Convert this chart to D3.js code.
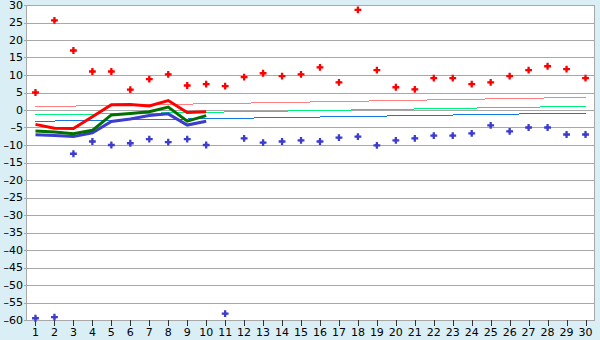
<!DOCTYPE html>
<html>
<head>
<meta charset="utf-8">
<script src="https://cdn.jsdelivr.net/npm/d3@7"></script>
<style>
  body { margin: 0; background: #d9eef5; }
  svg { display: block; }
  text { font-family: "DejaVu Sans", Verdana, sans-serif; font-size: 11px; fill: #000; }
</style>
</head>
<body>
<div id="chart"></div>
<script>
// days on the x axis
var days = d3.range(1, 31);
var yTicks = d3.range(-60, 31, 5);

// scattered maxima / minima
var redPoints = [5, 25.6, 17, 11, 11, 5.8, 8.8, 10.2, 7, 7.4, 6.8, 9.4, 10.5, 9.7, 10.2,
  12.2, 7.9, 28.6, 11.4, 6.5, 5.9, 9.1, 9.1, 7.4, 7.9, 9.7, 11.4, 12.5, 11.7, 9.1];
var bluePoints = [-59.5, -59.2, -12.5, -9, -10, -9.5, -8.3, -9.2, -8.3, -10, -58.2, -8.1, -9.3, -9, -8.7,
  -9, -7.9, -7.6, -10.1, -8.7, -8.1, -7.3, -7.3, -6.7, -4.4, -6.1, -5, -5, -7, -7];

// thick lines, first ten days only
var redLine = [-4.1, -5.2, -5.3, -1.9, 1.5, 1.6, 1.15, 2.7, -0.7, -0.5];
var greenLine = [-6, -6.3, -6.8, -5.8, -1.4, -1, -0.5, 0.85, -3.2, -1.6];
var blueLine = [-7.1, -7.3, -7.6, -6.5, -3.3, -2.6, -1.6, -1.1, -4.3, -3.2];

// thin trend lines (start day/value, end day/value)
var pinkTrend = [[1, 0.94], [30, 3.63]];
var mintTrend = [[1, -1.43], [30, 1.06]];
var skyTrend = [[1, -3.23], [30, -0.86]];

var width = 600, height = 340;
var margin = { top: 5, right: 5, bottom: 20, left: 26 };

var svg = d3.select("#chart").append("svg")
  .attr("width", width)
  .attr("height", height);

var x = d3.scalePoint()
  .domain(days)
  .range([margin.left, width - margin.right])
  .padding(0.5);

var y = d3.scaleLinear()
  .domain([-60, 30])
  .range([height - margin.bottom, margin.top]);

// white plot area
svg.append("rect")
  .attr("x", margin.left)
  .attr("y", margin.top)
  .attr("width", width - margin.right - margin.left)
  .attr("height", height - margin.bottom - margin.top)
  .attr("fill", "#fff");

// horizontal grid
svg.append("g")
  .selectAll("line")
  .data(yTicks)
  .enter()
  .append("line")
  .attr("x1", margin.left - 2)
  .attr("x2", width - margin.right)
  .attr("y1", function (d) { return Math.round(y(d)) + 0.5; })
  .attr("y2", function (d) { return Math.round(y(d)) + 0.5; })
  .attr("stroke", "#a8a8a8")
  .attr("stroke-width", 1);

// y labels
svg.append("g")
  .selectAll("text")
  .data(yTicks)
  .enter()
  .append("text")
  .attr("x", margin.left - 3)
  .attr("y", function (d) { return y(d); })
  .attr("dy", "0.35em")
  .attr("text-anchor", "end")
  .text(function (d) { return d < 0 ? "\u2013" + (-d) : d; });

// left axis and right border
svg.append("line")
  .attr("x1", margin.left + 0.5).attr("x2", margin.left + 0.5)
  .attr("y1", margin.top).attr("y2", height - margin.bottom)
  .attr("stroke", "#a8a8a8");
svg.append("line")
  .attr("x1", width - margin.right - 0.5).attr("x2", width - margin.right - 0.5)
  .attr("y1", margin.top).attr("y2", height - margin.bottom)
  .attr("stroke", "#a8a8a8");

// x ticks and labels
var xg = svg.append("g");
xg.selectAll("line")
  .data(days)
  .enter()
  .append("line")
  .attr("x1", function (d) { return Math.round(x(d)) + 0.5; })
  .attr("x2", function (d) { return Math.round(x(d)) + 0.5; })
  .attr("y1", height - margin.bottom)
  .attr("y2", height - margin.bottom + 6)
  .attr("stroke", "#333");
xg.selectAll("text")
  .data(days)
  .enter()
  .append("text")
  .attr("x", function (d) { return x(d); })
  .attr("y", height - 4)
  .attr("text-anchor", "middle")
  .text(function (d) { return d; });

// trend lines
var trendLine = d3.line()
  .x(function (d) { return x(d[0]); })
  .y(function (d) { return y(d[1]); });

[[pinkTrend, "#ff8080"], [mintTrend, "#00f080"], [skyTrend, "#1478e0"]].forEach(function (t) {
  svg.append("path")
    .attr("d", trendLine(t[0]))
    .attr("fill", "none")
    .attr("stroke", t[1])
    .attr("stroke-width", 1)
    .attr("shape-rendering", "crispEdges");
});

// thick lines
var dayLine = d3.line()
  .x(function (d, i) { return x(days[i]); })
  .y(function (d) { return y(d); });

[[blueLine, "#3c3cd0"], [greenLine, "#007000"], [redLine, "#ff0000"]].forEach(function (l) {
  svg.append("path")
    .attr("d", dayLine(l[0]))
    .attr("fill", "none")
    .attr("stroke", l[1])
    .attr("stroke-width", 3);
});

// point markers: cross with a diamond core
var crossPath = d3.symbol().type(d3.symbolCross).size(26)();
var corePath = d3.symbol().type(d3.symbolSquare).size(10)();

[[redPoints, "#ff0000"], [bluePoints, "#3c3cd0"]].forEach(function (p) {
  var g = svg.append("g")
    .selectAll("g")
    .data(p[0])
    .enter()
    .append("g")
    .attr("transform", function (d, i) { return "translate(" + x(days[i]) + "," + y(d) + ")"; })
    .attr("fill", p[1]);
  g.append("path").attr("d", crossPath);
  g.append("path").attr("d", corePath).attr("transform", "rotate(45)");
});
</script>
</body>
</html>
